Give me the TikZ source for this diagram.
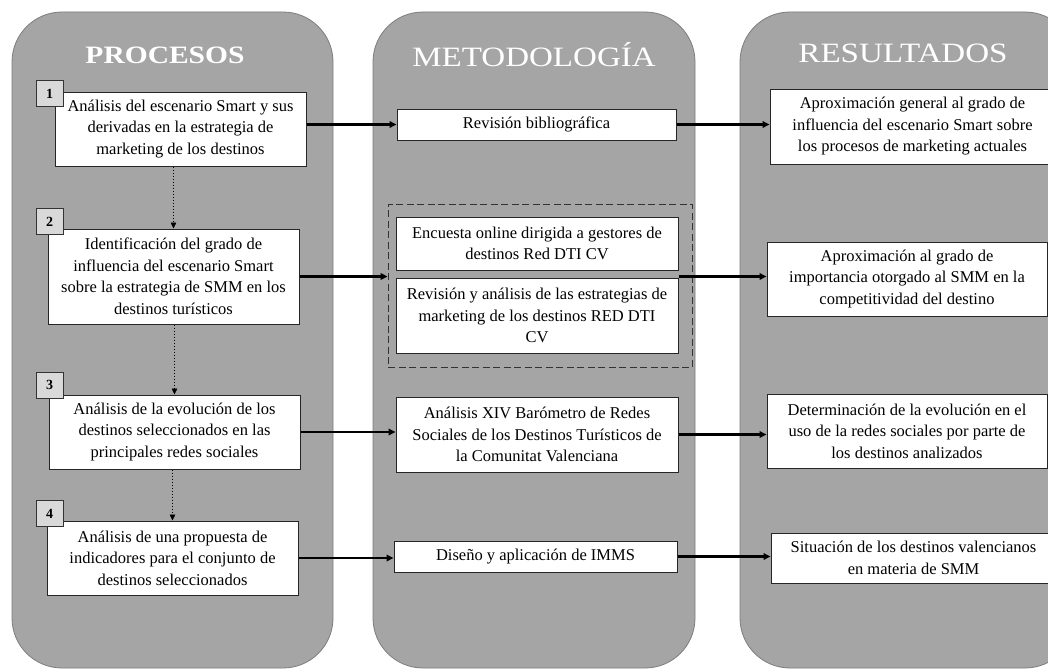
\documentclass[tikz,border=0pt]{standalone}
\usepackage{fontspec}
\setmainfont{Liberation Serif}
\newfontfamily\titlefont[FakeStretch=1.18]{Liberation Serif}
\usetikzlibrary{arrows.meta,calc}
\definecolor{colgray}{RGB}{165,165,165}
\definecolor{colborder}{RGB}{125,125,125}
\definecolor{numgray}{RGB}{217,217,217}
\tikzset{
  column/.style={fill=colgray,draw=colborder,line width=0.8pt,rounded corners=50pt},
  title/.style={text=white,font=\titlefont\fontsize{28}{30}\selectfont,inner sep=0pt},
  box/.style={draw=black!85,fill=white,line width=1pt,align=center,inner sep=0pt,
    font=\fontsize{16.5}{21.5}\selectfont},
  numbox/.style={draw=black!80,fill=numgray,line width=1pt,minimum width=27pt,minimum height=26pt,
    inner sep=0pt,font=\bfseries\fontsize{14}{15}\selectfont},
  grp/.style={draw=black!80,line width=0.8pt,dash pattern=on 7pt off 3.5pt},
  arr/.style={line width=2.2pt,-{Triangle[length=7pt,width=6.5pt]}},
  dotarr/.style={line width=0.6pt,dash pattern=on 1.5pt off 1.5pt,-{Triangle[length=6pt,width=5.5pt]}},
}
\begin{document}
\begin{tikzpicture}[x=1pt,y=-1pt]
\useasboundingbox (0,0) rectangle (1048,669);
\clip (0,0) rectangle (1048,669);
\fill[white] (0,0) rectangle (1048,669);
% columns
\draw[column] (12,12) rectangle (333,668);
\draw[column] (373,12) rectangle (695,668);
\draw[column] (740,12) rectangle (1075,668);
% titles
\node[title,font=\titlefont\bfseries\fontsize{25}{28}\selectfont] (tp) at (165,55) {PROCESOS};
\node[title] (tm) at (534,55) {METODOLOGÍA};
\node[title] (tr) at (903,53) {RESULTADOS};
% procesos
\node[box,minimum width=251pt,minimum height=74pt] (P1) at (180.5,129)
  {Análisis del escenario Smart y sus\\derivadas en la estrategia de\\marketing de los destinos};
\node[box,minimum width=251pt,minimum height=95pt] (P2) at (173.5,276.5)
  {Identificación del grado de\\influencia del escenario Smart\\sobre la estrategia de SMM en los\\destinos turísticos};
\node[box,minimum width=251pt,minimum height=74pt] (P3) at (174.5,432)
  {Análisis de la evolución de los\\destinos seleccionados en las\\principales redes sociales};
\node[box,minimum width=251pt,minimum height=74pt] (P4) at (172.5,558)
  {Análisis de una propuesta de\\indicadores para el conjunto de\\destinos seleccionados};
\node[numbox] (N1) at (49.5,93.5) {1};
\node[numbox] (N2) at (49.5,221.5) {2};
\node[numbox] (N3) at (49.5,385) {3};
\node[numbox] (N4) at (49.5,513.5) {4};
% metodologia
\node[box,minimum width=279pt,minimum height=31pt] (M1) at (536.5,124.5) {Revisión bibliográfica};
\node[grp,minimum width=304pt,minimum height=163pt,inner sep=0pt] (D) at (540,285.5) {};
\node[box,minimum width=282pt,minimum height=53pt] (M2a) at (537,243.5)
  {Encuesta online dirigida a gestores de\\destinos Red DTI CV};
\node[box,minimum width=282pt,minimum height=75pt] (M2b) at (537,315.5)
  {Revisión y análisis de las estrategias de\\marketing de los destinos RED DTI\\CV};
\node[box,minimum width=282pt,minimum height=75pt] (M3) at (537,434.5)
  {Análisis XIV Barómetro de Redes\\Sociales de los Destinos Turísticos de\\la Comunitat Valenciana};
\node[box,minimum width=283pt,minimum height=31pt] (M4) at (535.5,556.5) {Diseño y aplicación de IMMS};
% resultados
\node[box,minimum width=285pt,minimum height=75pt] (R1) at (912.5,126.5)
  {Aproximación general al grado de\\influencia del escenario Smart sobre\\los procesos de marketing actuales};
\node[box,minimum width=280pt,minimum height=74pt] (R2) at (907,279)
  {Aproximación al grado de\\importancia otorgado al SMM en la\\competitividad del destino};
\node[box,minimum width=280pt,minimum height=74pt] (R3) at (907,431)
  {Determinación de la evolución en el\\uso de la redes sociales por parte de\\los destinos analizados};
\node[box,minimum width=285pt,minimum height=50pt] (R4) at (913.5,558)
  {Situación de los destinos valencianos\\en materia de SMM};
% arrows row 1
\draw[arr] (P1.east |- M1.west) -- (M1.west);
\draw[arr] (M1.east) -- (M1.east -| R1.west);
% row 2
\draw[arr] (P2.east) -- (P2.east -| D.west);
\draw[arr] (M2a.east |- P2.east) -- (R2.west |- P2.east);
% row 3
\draw[arr] (P3.east) -- (P3.east -| M3.west);
\draw[arr] (M3.east) -- (M3.east -| R3.west);
% row 4
\draw[arr] (P4.east) -- (P4.east -| M4.west);
\draw[arr] (M4.east) -- (M4.east -| R4.west);
% dotted
\draw[dotarr] (P2.north |- P1.south) -- (P2.north);
\draw[dotarr] (P3.north |- P2.south) -- (P3.north);
\draw[dotarr] (P4.north |- P3.south) -- (P4.north);
\end{tikzpicture}
\end{document}
